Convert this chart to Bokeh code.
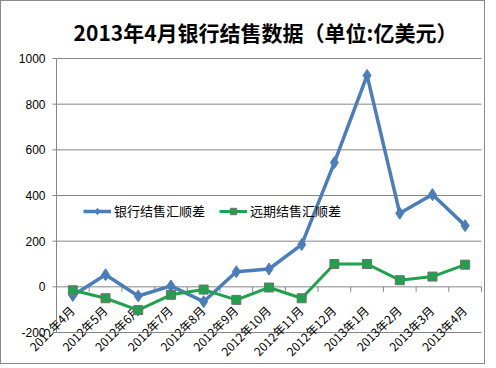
import math
from bokeh.plotting import figure
from bokeh.models import (Range1d, Legend, LegendItem, Label, LabelSet,
                          ColumnDataSource)
from bokeh.core.properties import value
from bokeh.embed import file_html
from bokeh.resources import INLINE

months = ["2012年4月", "2012年5月", "2012年6月", "2012年7月", "2012年8月",
          "2012年9月", "2012年10月", "2012年11月", "2012年12月", "2013年1月",
          "2013年2月", "2013年3月", "2013年4月"]
bank = [-38, 53, -40, 4, -65, 66, 78, 185, 544, 926, 322, 404, 268]
forward = [-15, -50, -102, -35, -12, -57, -3, -50, 100, 100, 29, 45, 97]
y_ticks = [-200, 0, 200, 400, 600, 800, 1000]

TITLE = "2013年4月银行结售数据（单位:亿美元）"
CJK = "Noto Sans CJK SC"
GRID = "#868686"
BLUE = "#4A7EBB"
GREEN = "#1FA24C"

n = len(months)
xs = [i + 0.5 for i in range(n)]
ymin, ymax = y_ticks[0], y_ticks[-1]

# canvas / plot-area geometry in pixels (the frame fills the whole canvas)
W, H = 485, 364
PL, PR, PT, PB = 55, 480, 57, 331          # plot area edges on the canvas
ppx = (PR - PL) / n                         # pixels per category
ppy = (PB - PT) / (ymax - ymin)             # pixels per unit

def dx(px):
    return px / ppx

def dy(px):
    return px / ppy

p = figure(width=W, height=H, output_backend="svg", toolbar_location=None,
           x_range=Range1d(-dx(PL), n + dx(W - PR)),
           y_range=Range1d(ymin - dy(H - PB), ymax + dy(PT)),
           x_axis_location=None, y_axis_location=None,
           min_border=0)
p.title = None
p.styles = {"border": "1px solid #8a8a8a"}
p.outline_line_color = None
p.background_fill_color = "white"
p.border_fill_color = "white"
p.grid.visible = False

# title
p.add_layout(Label(x=dx(264 - PL), y=ymax + dy(PT - 30), text=TITLE,
                   text_align="center", text_baseline="middle",
                   text_font=CJK, text_font_size="21px",
                   text_font_style="bold", text_color="#000000"))

# horizontal gridlines
p.segment(x0=[0] * len(y_ticks), y0=y_ticks, x1=[n] * len(y_ticks), y1=y_ticks,
          line_color=GRID, line_width=1)

# y axis line, ticks and labels
p.segment(x0=[0], y0=[ymin], x1=[0], y1=[ymax], line_color=GRID, line_width=1)
p.segment(x0=[0] * len(y_ticks), y0=y_ticks, x1=[-dx(4)] * len(y_ticks),
          y1=y_ticks, line_color=GRID, line_width=1)
ysrc = ColumnDataSource(dict(x=[0] * len(y_ticks), y=y_ticks,
                             text=[str(t) for t in y_ticks]))
p.add_layout(LabelSet(x="x", y="y", text="text", source=ysrc,
                      text_align="right", text_baseline="middle",
                      x_offset=-11, text_font=value("Liberation Sans"),
                      text_font_size="12px", text_color="#000000"))

# category tick marks on the zero line (at category boundaries)
bounds = list(range(n + 1))
p.segment(x0=bounds, y0=[0] * (n + 1), x1=bounds, y1=[-dy(5)] * (n + 1),
          line_color=GRID, line_width=1)

# category labels, rotated, hanging from the zero line
csrc = ColumnDataSource(dict(x=xs, y=[0] * n, text=months))
p.add_layout(LabelSet(x="x", y="y", text="text", source=csrc,
                      angle=math.pi / 4, text_align="right",
                      text_baseline="middle", x_offset=-1, y_offset=-21,
                      text_font=value(CJK), text_font_size="12px",
                      text_color="#000000"))

# series (drawn above the category labels)
b_line = p.line(xs, bank, line_color=BLUE, line_width=3.5, line_join="round",
                level="overlay")
b_mark = p.scatter(xs, bank, marker="diamond", size=12, fill_color=BLUE,
                   line_color=BLUE, level="overlay")
g_line = p.line(xs, forward, line_color=GREEN, line_width=3, line_join="round",
                level="overlay")
g_mark = p.scatter(xs, forward, marker="square", size=9, fill_color=GREEN,
                   line_color="#6f6f6f", line_width=1, level="overlay")

legend = Legend(items=[LegendItem(label="银行结售汇顺差", renderers=[b_line, b_mark]),
                       LegendItem(label="远期结售汇顺差", renderers=[g_line, g_mark])],
                orientation="horizontal", location=(82, 145),
                border_line_color=None, background_fill_alpha=0,
                label_text_font=CJK, label_text_font_size="13px",
                label_text_color="#000000", glyph_width=28, glyph_height=16,
                label_standoff=3, spacing=14, padding=0, margin=0)
p.add_layout(legend)

open("out.html", "w").write(file_html(p, INLINE))
